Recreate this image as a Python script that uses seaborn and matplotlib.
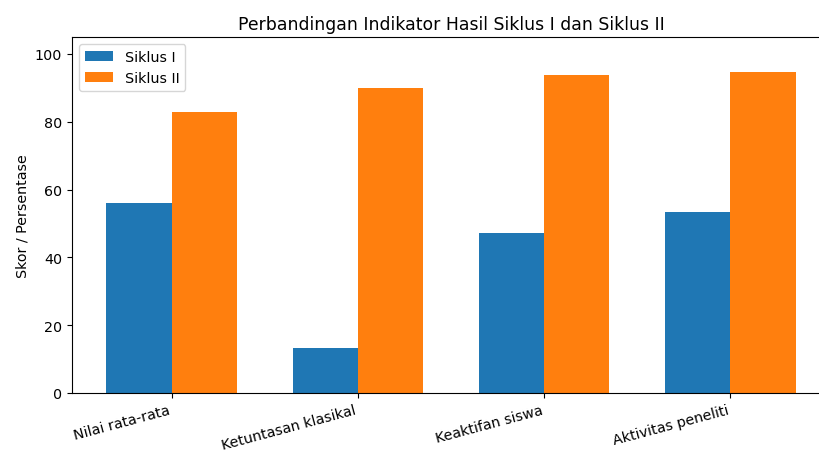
import matplotlib
matplotlib.use("Agg")
import matplotlib.pyplot as plt
import seaborn as sns
import pandas as pd

categories = ["Nilai rata-rata", "Ketuntasan klasikal", "Keaktifan siswa", "Aktivitas peneliti"]
siklus_1 = [56.0, 13.3, 47.2, 53.5]
siklus_2 = [83.0, 90.0, 93.7, 94.6]
series_names = ["Siklus I", "Siklus II"]

df = pd.DataFrame({
    "Indikator": categories * 2,
    "Nilai": siklus_1 + siklus_2,
    "Siklus": [series_names[0]] * len(categories) + [series_names[1]] * len(categories),
})

plt.rcParams["font.size"] = 10.3

fig = plt.figure(figsize=(8.19, 4.56), dpi=100)
ax = fig.add_axes([72 / 819, 62 / 456, 758 / 819, 356 / 456])

sns.barplot(data=df, x="Indikator", y="Nilai", hue="Siklus",
            palette=["#1f77b4", "#ff7f0e"], width=0.7, gap=0,
            linewidth=0, saturation=1, ax=ax, errorbar=None)

ax.set_xlim(-0.535, 3.535)
ax.set_ylim(0, 105)
ax.set_xlabel("")
ax.set_ylabel("Skor / Persentase")
ax.set_title("Perbandingan Indikator Hasil Siklus I dan Siklus II", fontsize=12.4)
ax.set_xticks(range(len(categories)))
ax.set_xticklabels(categories, rotation=15, ha="right")
ax.legend(loc="upper left", title=None)

fig.savefig("out.png", dpi=100)
